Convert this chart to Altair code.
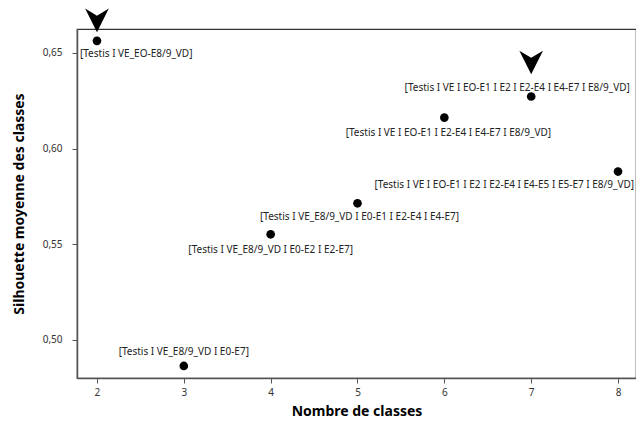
import altair as alt
import pandas as pd

# data
n_classes = [2, 3, 4, 5, 6, 7, 8]
silhouette = [0.6563, 0.4864, 0.5552, 0.5714, 0.6162, 0.6272, 0.5880]
labels = [
    "[Testis I VE_EO-E8/9_VD]",
    "[Testis I VE_E8/9_VD I E0-E7]",
    "[Testis I VE_E8/9_VD I E0-E2 I E2-E7]",
    "[Testis I VE_E8/9_VD I E0-E1 I E2-E4 I E4-E7]",
    "[Testis I VE I EO-E1 I E2-E4 I E4-E7 I E8/9_VD]",
    "[Testis I VE I EO-E1 I E2 I E2-E4 I E4-E7 I E8/9_VD]",
    "[Testis I VE I EO-E1 I E2 I E2-E4 I E4-E5 I  E5-E7 I E8/9_VD]",
]
arrow_x = [2, 7]
arrow_y = [0.6670, 0.6450]

# label placement (style): align, dx, dy
label_style = [
    ("left", -17, 13),
    ("center", 0, -14),
    ("center", 0, 16),
    ("center", 2, 14),
    ("center", 4, 15),
    ("center", -14, -9),
    ("right", 16, 13),
]

FONT = "Noto Sans"
df = pd.DataFrame({"n": n_classes, "s": silhouette, "label": labels})
arrows = pd.DataFrame({"n": arrow_x, "s": arrow_y})

xscale = alt.Scale(domain=[1.77, 8.207], nice=False, zero=False)
yscale = alt.Scale(domain=[0.4801, 0.6625], nice=False, zero=False)

base = alt.Chart(df)

points = base.mark_circle(size=75, color="black", opacity=1).encode(
    x=alt.X("n:Q", scale=xscale,
            axis=alt.Axis(title="Nombre de classes", values=n_classes, format="d",
                          grid=False, titleFontSize=14, titleFont=FONT, titleFontWeight="bold",
                          titleColor="black", labelFont=FONT, labelFontSize=10,
                          labelColor="#333", tickColor="#555", domainColor="#555",
                          tickSize=5, labelPadding=4, titlePadding=7, domainWidth=1.5)),
    y=alt.Y("s:Q", scale=yscale,
            axis=alt.Axis(title="Silhouette moyenne des classes", values=[0.50, 0.55, 0.60, 0.65],
                          labelExpr="replace(format(datum.value, '.2f'), '.', ',')",
                          grid=False, titleFontSize=14, titleFont=FONT, titleFontWeight="bold",
                          titleColor="black", labelFont=FONT, labelFontSize=10,
                          labelColor="#333", tickColor="#555", domainColor="#555",
                          tickSize=5, labelPadding=10, titlePadding=16, domainWidth=1.5)),
)

layers = [points]
for i, (al, dx, dy) in enumerate(label_style):
    t = alt.Chart(df.iloc[[i]]).mark_text(
        align=al, baseline="middle", dx=dx, dy=dy, font=FONT, fontSize=10, color="#222"
    ).encode(x=alt.X("n:Q", scale=xscale), y=alt.Y("s:Q", scale=yscale), text="label:N")
    layers.append(t)

arrow_path = "M-1,-1 L0,-0.4 L1,-1 L0,1 Z"
arr = alt.Chart(arrows).mark_point(
    shape=arrow_path, size=560, filled=True, color="black", opacity=1, clip=False
).encode(x=alt.X("n:Q", scale=xscale), y=alt.Y("s:Q", scale=yscale))
layers.append(arr)

chart = alt.layer(*layers).properties(
    width=559, height=349,
    padding={"left": 69, "top": 21, "right": 0, "bottom": 44},
    autosize=alt.AutoSizeParams(type="none"),
).configure_view(stroke="#333", strokeWidth=1.2)

chart.save("out.html", embed_options={"renderer": "svg", "actions": False})
